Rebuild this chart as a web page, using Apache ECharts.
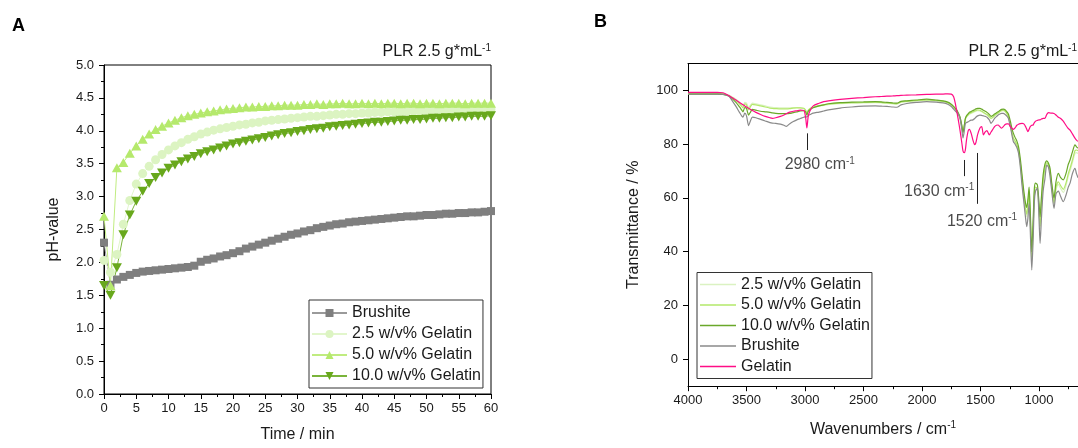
<!DOCTYPE html>
<html>
<head>
<meta charset="utf-8">
<script src="https://cdn.jsdelivr.net/npm/echarts@6/dist/echarts.min.js"></script>
<style>
  html, body { margin: 0; padding: 0; background: #fff; }
  #wrap { position: relative; width: 1078px; height: 448px; overflow: hidden; }
  #panelA { position: absolute; left: 0; top: 0; width: 590px; height: 448px; }
  #panelB { position: absolute; left: 590px; top: 0; width: 488px; height: 448px; }
</style>
</head>
<body>
<div id="wrap">
  <div id="panelA"></div>
  <div id="panelB"></div>
</div>
<script>
// ---------- Panel A: pH over time ----------
const minutes = [0, 1, 2, 3, 4, 5, 6, 7, 8, 9, 10, 11, 12, 13, 14, 15, 16, 17, 18, 19, 20,
  21, 22, 23, 24, 25, 26, 27, 28, 29, 30, 31, 32, 33, 34, 35, 36, 37, 38, 39, 40,
  41, 42, 43, 44, 45, 46, 47, 48, 49, 50, 51, 52, 53, 54, 55, 56, 57, 58, 59, 60];

const phBrushite = [2.30, 1.66, 1.74, 1.78, 1.81, 1.84, 1.86, 1.87, 1.88, 1.89,
  1.90, 1.91, 1.92, 1.93, 1.95, 2.01, 2.04, 2.06, 2.09, 2.11,
  2.14, 2.17, 2.21, 2.24, 2.27, 2.30, 2.33, 2.36, 2.39, 2.42,
  2.44, 2.47, 2.49, 2.52, 2.54, 2.56, 2.58, 2.59, 2.61, 2.62,
  2.63, 2.64, 2.65, 2.66, 2.67, 2.68, 2.69, 2.70, 2.70, 2.71,
  2.72, 2.72, 2.73, 2.74, 2.74, 2.75, 2.75, 2.76, 2.76, 2.77, 2.78];

const phGel25 = [2.03, 1.85, 2.12, 2.58, 2.94, 3.19, 3.35, 3.46, 3.56, 3.64,
  3.71, 3.77, 3.82, 3.87, 3.91, 3.95, 3.98, 4.01, 4.03, 4.05,
  4.07, 4.09, 4.10, 4.12, 4.13, 4.15, 4.16, 4.17, 4.18, 4.19,
  4.20, 4.21, 4.22, 4.22, 4.23, 4.24, 4.25, 4.25, 4.26, 4.26,
  4.27, 4.27, 4.28, 4.28, 4.29, 4.29, 4.29, 4.30, 4.30, 4.30,
  4.31, 4.31, 4.31, 4.31, 4.32, 4.32, 4.32, 4.32, 4.33, 4.33, 4.33];

const phGel50 = [2.70, 1.65, 3.44, 3.52, 3.66, 3.77, 3.87, 3.95, 4.02, 4.07,
  4.12, 4.16, 4.20, 4.23, 4.25, 4.27, 4.29, 4.30, 4.32, 4.33,
  4.34, 4.35, 4.36, 4.36, 4.37, 4.37, 4.38, 4.38, 4.39, 4.39,
  4.39, 4.40, 4.40, 4.41, 4.40, 4.41, 4.41, 4.42, 4.41, 4.41,
  4.42, 4.41, 4.42, 4.41, 4.42, 4.42, 4.41, 4.42, 4.42, 4.41,
  4.42, 4.42, 4.41, 4.42, 4.42, 4.42, 4.41, 4.42, 4.42, 4.42, 4.42];

const phGel100 = [1.65, 1.50, 1.92, 2.42, 2.72, 2.93, 3.08, 3.20, 3.29, 3.36,
  3.43, 3.48, 3.53, 3.57, 3.61, 3.65, 3.68, 3.71, 3.74, 3.77,
  3.80, 3.82, 3.84, 3.86, 3.88, 3.90, 3.92, 3.94, 3.96, 3.97,
  3.99, 4.00, 4.02, 4.03, 4.04, 4.06, 4.07, 4.08, 4.09, 4.10,
  4.11, 4.12, 4.13, 4.13, 4.14, 4.15, 4.16, 4.16, 4.17, 4.17,
  4.18, 4.19, 4.19, 4.20, 4.20, 4.21, 4.21, 4.22, 4.22, 4.22, 4.23];

const phNames = ['Brushite', '2.5 w/v% Gelatin', '5.0 w/v% Gelatin', '10.0 w/v% Gelatin'];

// ---------- Panel B: FTIR spectra ----------
const wavenumbers = [
  4000, 3900, 3800, 3750, 3700, 3650, 3620, 3590, 3560, 3540,
  3530, 3515, 3500, 3482, 3465, 3450, 3420, 3380, 3340, 3300,
  3280, 3250, 3210, 3180, 3160, 3130, 3100, 3070, 3040, 3010,
  2995, 2984, 2972, 2955, 2930, 2880, 2840, 2800, 2700, 2600,
  2500, 2400, 2350, 2300, 2250, 2215, 2180, 2130, 2050, 1960,
  1880, 1820, 1780, 1750, 1730, 1715, 1700, 1690, 1675, 1660,
  1650, 1640, 1630, 1620, 1605, 1595, 1580, 1565, 1550, 1540,
  1525, 1505, 1490, 1475, 1460, 1445, 1425, 1410, 1395, 1380,
  1365, 1350, 1335, 1320, 1305, 1290, 1275, 1262, 1245, 1230,
  1219, 1205, 1190, 1175, 1160, 1145, 1130, 1115, 1105, 1095,
  1085, 1075, 1062, 1050, 1040, 1030, 1014, 1000, 991, 980,
  965, 950, 934, 920, 906, 890, 872, 855, 835, 815,
  793, 770, 750, 735, 715, 693, 680, 667];

const irGel25 = [
  98.9, 98.9, 98.9, 98.9, 98.8, 98.2, 97.5, 96.7, 95.6, 94.7,
  94.3, 95.5, 95.2, 93.6, 94.6, 95.2, 95.0, 94.6, 94.2, 93.8,
  93.7, 93.6, 93.5, 93.5, 93.5, 93.5, 93.6, 93.6, 93.5, 93.2,
  92.6, 91.6, 92.5, 93.1, 93.6, 94.1, 94.4, 94.7, 95.0, 95.2,
  95.3, 95.4, 95.3, 95.1, 94.9, 94.8, 95.5, 95.7, 96.0, 96.2,
  96.0, 95.7, 95.2, 94.4, 93.6, 92.8, 92.0, 91.1, 89.6, 86.5,
  84.5, 86.4, 89.0, 90.0, 90.7, 91.1, 91.4, 91.7, 92.0, 92.2,
  92.4, 92.3, 92.0, 91.6, 91.2, 90.8, 90.0, 89.4, 89.8, 90.4,
  91.0, 91.4, 91.9, 92.3, 92.4, 92.1, 91.2, 90.0, 86.8, 83.5,
  81.8, 80.6, 79.2, 77.0, 72.5, 66.0, 60.0, 55.0, 53.0, 56.5,
  61.0, 51.5, 36.5, 48.5, 60.5, 63.2, 63.0, 55.0, 48.5, 56.5,
  65.5, 70.2, 72.5, 71.8, 69.5, 63.3, 57.5, 63.0, 65.0, 63.5,
  62.0, 64.5, 68.0, 70.0, 73.0, 76.5, 76.8, 76.5];

const irGel50 = [
  98.8, 98.8, 98.8, 98.8, 98.7, 98.0, 97.2, 96.3, 95.0, 94.0,
  93.5, 95.0, 94.6, 92.8, 94.0, 94.8, 94.6, 94.2, 93.8, 93.4,
  93.3, 93.2, 93.1, 93.1, 93.1, 93.2, 93.4, 93.5, 93.5, 93.3,
  92.6, 91.5, 92.6, 93.3, 93.8, 94.3, 94.6, 94.9, 95.2, 95.4,
  95.5, 95.6, 95.5, 95.3, 95.1, 95.0, 95.7, 95.9, 96.2, 96.4,
  96.2, 95.9, 95.4, 94.6, 93.8, 93.0, 92.2, 91.3, 89.8, 86.8,
  84.8, 86.6, 89.3, 90.2, 91.0, 91.4, 91.7, 92.0, 92.3, 92.5,
  92.7, 92.6, 92.2, 91.8, 91.4, 91.0, 90.2, 89.6, 90.0, 90.6,
  91.2, 91.6, 92.1, 92.5, 92.6, 92.3, 91.4, 90.3, 87.2, 84.0,
  82.3, 81.2, 79.8, 77.6, 73.0, 66.8, 60.8, 56.0, 54.0, 57.5,
  62.0, 52.5, 37.5, 49.5, 61.5, 64.0, 63.5, 56.0, 49.5, 57.5,
  66.5, 71.0, 73.0, 72.3, 70.0, 64.0, 58.2, 64.0, 66.0, 64.5,
  63.2, 65.5, 69.0, 71.0, 74.0, 77.5, 77.8, 77.5];

const irGel100 = [
  98.6, 98.6, 98.6, 98.6, 98.5, 97.9, 96.8, 95.5, 93.8, 92.6,
  92.0, 93.6, 93.2, 90.8, 92.0, 92.9, 92.6, 92.2, 92.0, 91.8,
  91.6, 91.4, 91.3, 91.3, 91.3, 91.4, 91.7, 92.0, 92.3, 92.4,
  92.0, 90.8, 92.2, 92.9, 93.5, 94.2, 94.6, 95.0, 95.4, 95.6,
  95.7, 95.8, 95.7, 95.5, 95.3, 95.2, 95.9, 96.1, 96.4, 96.7,
  96.4, 96.1, 95.6, 94.8, 94.0, 93.3, 92.5, 91.6, 90.0, 87.0,
  84.3, 86.5, 89.5, 90.5, 91.3, 91.8, 92.1, 92.5, 92.8, 93.1,
  93.3, 93.3, 93.0, 92.6, 92.2, 91.8, 91.0, 90.3, 90.6, 91.2,
  91.6, 92.0, 92.5, 92.9, 93.0, 92.8, 92.0, 91.2, 88.5, 85.5,
  84.0, 82.5, 81.2, 79.0, 74.5, 68.5, 62.5, 58.0, 56.5, 59.5,
  64.0, 55.0, 40.0, 52.0, 63.5, 65.5, 64.8, 58.0, 53.0, 60.0,
  68.5, 72.5, 73.8, 73.0, 71.0, 65.0, 59.9, 66.0, 69.1, 67.5,
  66.7, 69.0, 72.5, 74.1, 77.0, 79.7, 79.0, 78.5];

const irBrushite = [
  98.6, 98.6, 98.6, 98.6, 98.5, 97.8, 96.0, 94.0, 91.8, 90.4,
  90.0, 91.5, 90.5, 86.9, 88.8, 90.0, 89.8, 89.2, 88.6, 88.0,
  87.8, 87.7, 87.4, 87.0, 86.6, 87.6, 88.4, 89.0, 89.5, 90.0,
  90.2, 90.1, 90.6, 91.0, 91.5, 91.9, 92.3, 92.7, 93.4, 93.8,
  94.1, 94.2, 94.1, 94.0, 93.8, 93.7, 94.6, 95.1, 95.5, 95.8,
  95.6, 95.3, 94.8, 94.0, 93.0, 92.3, 91.6, 91.2, 89.5, 85.5,
  82.3, 84.5, 87.5, 88.0, 88.3, 88.6, 88.9, 89.0, 89.5, 90.0,
  90.5, 90.8, 90.7, 90.5, 90.3, 90.0, 89.0, 87.7, 88.5, 89.6,
  90.2, 90.8, 91.2, 91.4, 91.4, 91.0, 90.4, 89.6, 86.5, 83.0,
  80.9, 80.0, 78.8, 76.5, 71.5, 64.5, 58.5, 52.5, 49.3, 52.5,
  58.0, 48.0, 33.2, 45.0, 58.5, 62.5, 63.6, 52.0, 43.1, 52.0,
  62.5, 67.0, 72.2, 71.5, 68.0, 62.0, 56.1, 61.5, 62.5, 60.5,
  58.6, 61.0, 64.0, 65.5, 69.0, 71.0, 69.0, 67.5];

const irGelatin = [
  99.2, 99.2, 99.2, 99.2, 99.1, 98.0, 97.2, 96.4, 95.5, 94.9,
  94.6, 94.2, 93.8, 93.3, 92.9, 92.5, 91.8, 91.0, 90.3, 89.8,
  89.6, 89.8, 90.3, 90.8, 91.3, 91.9, 92.2, 92.4, 92.6, 92.5,
  90.0, 86.0, 90.5, 92.6, 94.2, 95.2, 95.8, 96.1, 96.6, 97.0,
  97.3, 97.6, 97.7, 97.8, 97.9, 98.0, 98.1, 98.2, 98.3, 98.5,
  98.6, 98.6, 98.7, 98.6, 97.6, 95.0, 91.5, 89.0, 85.0, 80.5,
  77.5, 76.8, 77.8, 81.5, 85.0, 85.5, 84.0, 81.5, 79.8, 80.5,
  83.5, 86.0, 86.5, 83.4, 84.5, 85.0, 83.4, 84.5, 85.5, 86.5,
  87.0, 87.1, 86.5, 85.9, 86.5, 87.3, 87.5, 87.5, 86.5, 85.8,
  85.5, 86.0, 87.0, 87.4, 87.6, 87.7, 87.5, 86.5, 85.5, 84.6,
  85.5, 86.5, 87.0, 87.1, 88.0, 88.5, 88.8, 89.0, 89.0, 89.3,
  89.6, 89.6, 91.0, 91.7, 91.6, 91.5, 91.4, 90.8, 90.0, 89.5,
  88.5, 87.0, 85.8, 85.2, 83.8, 82.2, 81.5, 81.0];

const irNames = ['2.5 w/v% Gelatin', '5.0 w/v% Gelatin', '10.0 w/v% Gelatin', 'Brushite', 'Gelatin'];

// band markers: wavenumber, top and bottom of the tick line, label anchor
const bandLines = [[2980, 84.0, 77.8], [1635, 74.1, 68.1], [1530, 76.7, 57.8]];
const bandLabels = [[2874, 72.2, '2980'], [1854, 62.3, '1630'], [1487, 51.2, '1520']];

const xTicksB = [4000, 3500, 3000, 2500, 2000, 1500, 1000];
const xMinorB = [3750, 3250, 2750, 2250, 1750, 1250, 750];
const yTicksB = [0, 20, 40, 60, 80, 100];
const yMinorB = [10, 30, 50, 70, 90];

// ---------- shared styling ----------
const FONT = '"Liberation Sans", Arial, Helvetica, sans-serif';
const INK = '#1a1a1a';
const supRich = {
  b: { fontSize: 16, fontFamily: FONT, fontWeight: 'normal', color: INK, lineHeight: 18 },
  s: { fontSize: 10, fontFamily: FONT, fontWeight: 'normal', color: INK, verticalAlign: 'top' }
};
const axisBlack = { onZero: false, lineStyle: { color: '#000', width: 1 } };

function pairs(xs, ys) { return xs.map((x, i) => [x, ys[i]]); }

// ---------- chart A ----------
const chartA = echarts.init(document.getElementById('panelA'), null, { renderer: 'canvas' });
const downTri = 'path://M0,0 L10,0 L5,9 Z';
const phColors = {
  line: ['#9a9a9a', '#e2f6cc', '#c0ec80', '#7ab43a'],
  mark: ['#7f7f7f', '#dcf4c2', '#b5e96c', '#68a81c']
};
const phSymbols = ['rect', 'circle', 'triangle', downTri];
const phSizes = [8, 9, [10, 9], [10, 9]];
const phData = [phBrushite, phGel25, phGel50, phGel100];

chartA.setOption({
  animation: false,
  textStyle: { fontFamily: FONT },
  title: {
    text: '{b|PLR 2.5 g*mL}{s|-1}', right: 99, top: 43, padding: 0,
    textStyle: { fontWeight: 'normal', rich: supRich }
  },
  graphic: [{
    type: 'text', left: 12, top: 17,
    style: { text: 'A', font: 'bold 18px ' + FONT, fill: '#000' }
  }],
  grid: {
    left: 104, right: 99, top: 65, bottom: 50,
    show: true, borderColor: '#000', borderWidth: 1
  },
  legend: {
    orient: 'vertical', left: 309, top: 300,
    padding: [5, 2, 4, 2], itemWidth: 35, itemHeight: 10, itemGap: 5,
    borderColor: '#333', borderWidth: 1, selectedMode: false,
    textStyle: { fontSize: 16, color: INK, lineHeight: 16, fontFamily: FONT },
    data: phNames
  },
  xAxis: {
    type: 'value', min: 0, max: 60, interval: 5,
    name: 'Time / min', nameLocation: 'middle', nameGap: 33,
    nameTextStyle: { fontSize: 16, color: INK },
    axisLine: axisBlack,
    axisTick: { length: 5, lineStyle: { color: '#000' } },
    minorTick: { show: true, splitNumber: 2, length: 3, lineStyle: { color: '#000' } },
    axisLabel: { fontSize: 13, color: INK, margin: 8 },
    splitLine: { show: false }
  },
  yAxis: {
    type: 'value', min: 0, max: 5, interval: 0.5,
    name: 'pH-value', nameLocation: 'middle', nameGap: 42,
    nameTextStyle: { fontSize: 16, color: INK },
    axisLine: axisBlack,
    axisTick: { length: 5, lineStyle: { color: '#000' } },
    minorTick: { show: true, splitNumber: 2, length: 3, lineStyle: { color: '#000' } },
    axisLabel: { fontSize: 13, color: INK, margin: 10, formatter: v => v.toFixed(1) },
    splitLine: { show: false }
  },
  series: phNames.map((name, k) => ({
    name, type: 'line',
    data: pairs(minutes, phData[k]),
    symbol: phSymbols[k], symbolSize: phSizes[k], showAllSymbol: true,
    lineStyle: { color: phColors.line[k], width: 1 },
    itemStyle: { color: phColors.mark[k], borderWidth: 0 },
    emphasis: { disabled: true }
  }))
});

// ---------- chart B ----------
const chartB = echarts.init(document.getElementById('panelB'), null, { renderer: 'canvas' });
const irColors = ['#dbf2c2', '#b3e86a', '#6aa82a', '#8a8a8a', '#ff0d86'];
const irData = [irGel25, irGel50, irGel100, irBrushite, irGelatin];

const xBase = { type: 'value', inverse: true, min: 667, max: 4000, splitLine: { show: false } };
const yBase = { type: 'value', min: -10, max: 110, splitLine: { show: false } };

const irSeries = irNames.map((name, k) => ({
  name, type: 'line', xAxisIndex: 0, yAxisIndex: 0,
  data: pairs(wavenumbers, irData[k]),
  symbol: 'none', smooth: 0.25,
  lineStyle: { color: irColors[k], width: 1.2 },
  itemStyle: { color: irColors[k] },
  emphasis: { disabled: true }
}));
irSeries[irSeries.length - 1].markLine = {
  silent: true, symbol: ['none', 'none'], label: { show: false },
  lineStyle: { color: '#222', width: 1, type: 'solid' },
  data: bandLines.map(([w, top, bottom]) => [{ coord: [w, top] }, { coord: [w, bottom] }])
};
irSeries.push({
  name: 'bands', type: 'scatter', xAxisIndex: 0, yAxisIndex: 0,
  symbolSize: 0, silent: true,
  data: bandLabels,
  label: {
    show: true, position: [0, 0], align: 'center', verticalAlign: 'middle',
    color: INK, textBorderWidth: 0,
    formatter: p => '{b|' + p.data[2] + ' cm}{s|-1}',
    rich: supRich
  }
});

chartB.setOption({
  animation: false,
  textStyle: { fontFamily: FONT },
  title: {
    text: '{b|PLR 2.5 g*mL}{s|-1}', right: 1, top: 43, padding: 0,
    textStyle: { fontWeight: 'normal', rich: supRich }
  },
  graphic: [{
    type: 'text', left: 4, top: 13,
    style: { text: 'B', font: 'bold 18px ' + FONT, fill: '#000' }
  }],
  grid: { left: 98, right: 0, top: 63.4, bottom: 61.8 },
  legend: {
    orient: 'vertical', left: 107, top: 272.5,
    padding: [4, 2, 4, 3], itemWidth: 36, itemHeight: 1.6, itemGap: 4.5,
    icon: 'rect',
    borderColor: '#333', borderWidth: 1, selectedMode: false,
    textStyle: { fontSize: 16, color: INK, lineHeight: 16, fontFamily: FONT },
    data: irNames
  },
  xAxis: [
    Object.assign({}, xBase, {
      position: 'bottom',
      name: '{b|Wavenumbers / cm}{s|-1}', nameLocation: 'middle', nameGap: 34,
      nameTextStyle: { rich: supRich },
      axisLine: axisBlack,
      axisTick: { length: 5, lineStyle: { color: '#000' }, customValues: xTicksB },
      axisLabel: { fontSize: 13, color: INK, margin: 8, customValues: xTicksB, formatter: v => String(v) }
    }),
    Object.assign({}, xBase, {
      position: 'bottom',
      axisLine: { show: false, onZero: false }, axisLabel: { show: false },
      axisTick: { length: 3, lineStyle: { color: '#000' }, customValues: xMinorB }
    }),
    Object.assign({}, xBase, {
      position: 'top',
      axisLine: axisBlack, axisLabel: { show: false }, axisTick: { show: false }
    })
  ],
  yAxis: [
    Object.assign({}, yBase, {
      name: 'Transmittance / %', nameLocation: 'middle', nameGap: 46,
      nameTextStyle: { fontSize: 16, color: INK },
      axisLine: axisBlack,
      axisTick: { length: 5, lineStyle: { color: '#000' }, customValues: yTicksB },
      axisLabel: { fontSize: 13, color: INK, margin: 10, customValues: yTicksB, formatter: v => String(v) }
    }),
    Object.assign({}, yBase, {
      axisLine: { show: false, onZero: false }, axisLabel: { show: false },
      axisTick: { length: 3, lineStyle: { color: '#000' }, customValues: yMinorB }
    })
  ],
  series: irSeries
});
</script>
</body>
</html>
